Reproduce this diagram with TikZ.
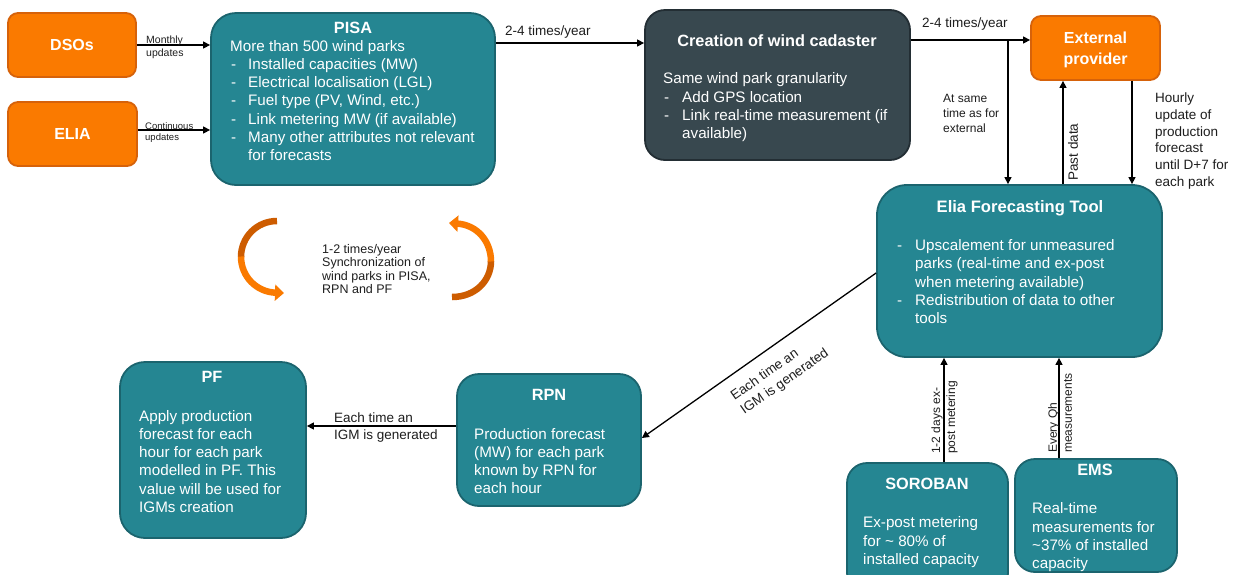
\documentclass[tikz,border=0pt]{standalone}
\usepackage{fontspec}
\setmainfont{Liberation Sans}
\usetikzlibrary{arrows.meta,calc}
\definecolor{teal1}{RGB}{37,134,146}
\definecolor{tealB}{RGB}{27,100,110}
\definecolor{orng}{RGB}{250,122,0}
\definecolor{orngB}{RGB}{214,98,10}
\definecolor{darkorng}{RGB}{205,92,0}
\definecolor{slate}{RGB}{56,72,79}
\definecolor{slateB}{RGB}{35,46,52}
\definecolor{ink}{RGB}{30,30,30}
\tikzset{
 boxbase/.style={draw, line width=1.8pt, inner sep=0pt},
 tealbox/.style={boxbase, fill=teal1, draw=tealB},
 slatebox/.style={boxbase, fill=slate, draw=slateB},
 orgbox/.style={boxbase, fill=orng, draw=orngB, rounded corners=10pt, text=white,
   font=\fontsize{16}{20}\selectfont\bfseries, align=center},
 ttl/.style={text=white, font=\fontsize{16.3}{19}\selectfont\bfseries, inner sep=0pt, anchor=mid, yshift=-4pt},
 bdy/.style={text=white, font=\fontsize{15.2}{18}\selectfont, inner sep=0pt, anchor=mid west, yshift=-3pt},
 lbl/.style={text=ink, font=\fontsize{13.5}{17}\selectfont, inner sep=0pt, anchor=west, align=left},
 lblh/.style={lbl, yshift=-2pt},
 arr/.style={draw=black, line width=1.3pt, -{Triangle[length=7pt,width=7pt]}},
 curv/.style={line width=6.5pt},
}
\begin{document}
\begin{tikzpicture}[x=1pt,y=-1pt]
\useasboundingbox (0,0) rectangle (1235,574);
\clip (0,0) rectangle (1235,574);
\fill[white] (0,0) rectangle (1235,574);

% ---------- boxes ----------
\node[orgbox, minimum width=128pt, minimum height=64pt] (dsos) at (72,45) {DSOs};
\node[orgbox, minimum width=129pt, minimum height=64pt] (elia) at (72.5,134) {ELIA};
\node[tealbox, rounded corners=25pt, minimum width=284pt, minimum height=172pt] (pisa) at (353,99) {};
\node[slatebox, rounded corners=20pt, minimum width=265pt, minimum height=150pt] (cad) at (777.5,85) {};
\node[orgbox, minimum width=129pt, minimum height=64pt] (ext) at (1095.5,48) {};
\node[text=white, font=\fontsize{16}{20.5}\selectfont\bfseries, align=center, inner sep=0pt] (extT) at (1095.5,50) {External\\provider};
\node[tealbox, rounded corners=30pt, minimum width=285pt, minimum height=172pt] (eft) at (1019.5,271) {};
\node[tealbox, rounded corners=25pt, minimum width=186pt, minimum height=176pt] (pf) at (213,450) {};
\node[tealbox, rounded corners=22pt, minimum width=184pt, minimum height=132pt] (rpn) at (549,440) {};
\node[tealbox, rounded corners=20pt, minimum width=161pt, minimum height=130pt] (sor) at (927.5,528) {};
\node[tealbox, rounded corners=20pt, minimum width=162pt, minimum height=113pt] (ems) at (1096,515.5) {};

% ---------- PISA text ----------
\node[ttl] (pisaT) at (353,27) {PISA};
\node[bdy] (pisaA) at (230,46) {More than 500 wind parks};
\foreach \yy in {64,82,100,119,137}
  \node[bdy] at (231,\yy) {-};
\foreach \yy/\s [count=\i] in {64/{Installed capacities (MW)},82/{Electrical localisation (LGL)},
  100/{Fuel type (PV, Wind, etc.)},119/{Link metering MW (if available)},
  137/{Many other attributes not relevant},155/{for forecasts}}
  \node[bdy] (pisaB\i) at (248,\yy) {\s};

% ---------- cadaster text ----------
\node[ttl] (cadT) at (777,40) {Creation of wind cadaster};
\node[bdy] (cadA) at (663,78) {Same wind park granularity};
\foreach \yy in {97,115}
  \node[bdy] at (664,\yy) {-};
\foreach \yy/\s [count=\i] in {97/{Add GPS location},115/{Link real-time measurement (if},133/{available)}}
  \node[bdy] (cadB\i) at (682,\yy) {\s};

% ---------- EFT text ----------
\node[ttl, font=\fontsize{16.6}{19}\selectfont\bfseries] (eftT) at (1020,206) {Elia Forecasting Tool};
\foreach \yy in {245,300}
  \node[bdy] at (897,\yy) {-};
\foreach \yy/\s [count=\i] in {245/{Upscalement for unmeasured},263/{parks (real-time and ex-post},
  282/{when metering available)},300/{Redistribution of data to other},318/{tools}}
  \node[bdy] (eftB\i) at (915,\yy) {\s};

% ---------- PF text ----------
\node[ttl] (pfT) at (212,376) {PF};
\foreach \yy/\s [count=\i] in {416/{Apply production},434/{forecast for each},452/{hour for each park},
  470/{modelled in PF. This},489/{value will be used for},507/{IGMs creation}}
  \node[bdy] (pfB\i) at (139,\yy) {\s};

% ---------- RPN text ----------
\node[ttl] (rpnT) at (549,394) {RPN};
\foreach \yy/\s [count=\i] in {434/{Production forecast},452/{(MW) for each park},
  470/{known by RPN for},488/{each hour}}
  \node[bdy] (rpnB\i) at (474,\yy) {\s};

% ---------- SOROBAN text ----------
\node[ttl] (sorT) at (927,483) {SOROBAN};
\foreach \yy/\s [count=\i] in {522/{Ex-post metering},541/{for \textasciitilde{} 80\% of},559/{installed capacity}}
  \node[bdy] (sorB\i) at (863,\yy) {\s};

% ---------- EMS text ----------
\node[ttl] (emsT) at (1095,469) {EMS};
\foreach \yy/\s [count=\i] in {508/{Real-time},527/{measurements for},545/{\textasciitilde37\% of installed},563/{capacity}}
  \node[bdy] (emsB\i) at (1032,\yy) {\s};

% ---------- connectors ----------
\draw[arr] (dsos.east) -- (dsos.east -| pisa.west);
\draw[arr] ([yshift=4pt]elia.east) -- ([yshift=4pt]elia.east -| pisa.west);
\draw[arr] (pisa.east |- 0,43) -- (cad.west |- 0,43);
\draw[arr] (cad.east |- 0,40) -- (ext.west |- 0,40);
\coordinate (br) at (1008,40);
\draw[arr] (br) -- (br |- eft.north);
\draw[arr] (eft.north -| 1063,0) -- (ext.south -| 1063,0);
\draw[arr] (ext.south -| 1132,0) -- (eft.north -| 1132,0);
\draw[arr] (eft.west |- 0,273) -- (rpn.east |- 0,438);
\draw[arr] (rpn.west |- 0,426) -- (pf.east |- 0,426);
\draw[arr] (sor.north -| 944,0) -- (eft.south -| 944,0);
\draw[arr] (ems.north -| 1059,0) -- (eft.south -| 1059,0);

% ---------- connector labels ----------
\node[lblh, font=\fontsize{10.5}{13}\selectfont] (lMon) at (146,45.5) {Monthly\\updates};
\node[lblh, font=\fontsize{9.5}{11}\selectfont] (lCon) at (145,130.5) {Continuous\\updates};
\node[lbl, anchor=mid west, yshift=-3pt] (l24a) at (505,30) {2-4 times/year};
\node[lbl, anchor=mid west, yshift=-3pt] (l24b) at (922,22) {2-4 times/year};
\node[lblh, font=\fontsize{12}{15}\selectfont] (lSame) at (943,111) {At same\\time as for\\external};
\node[lbl, rotate=90, anchor=center] (lPast) at (1073,152) {Past data};
\node[lbl, font=\fontsize{13.5}{16.8}\selectfont] (lHour) at (1155,141) {Hourly\\update of\\production\\forecast\\until D+7 for\\each park};
\node[lblh, font=\fontsize{12.5}{13.4}\selectfont] (lSync) at (322,267) {1-2 times/year\\Synchronization of\\wind parks in PISA,\\RPN and PF};
\node[lblh] (lIgm1) at (334,426) {Each time an\\IGM is generated};
\node[lbl, rotate=35, anchor=center] (lIgm2) at (780,375) {Each time an\\IGM is generated};
\node[lbl, font=\fontsize{12}{15}\selectfont, rotate=90, anchor=west] (lSor) at (944.5,454) {1-2 days ex-\\post metering};
\node[lbl, font=\fontsize{12}{15}\selectfont, rotate=90, anchor=west] (lEms) at (1060,453) {Every Qh\\measurements};

% ---------- curved synchronization arrows ----------
\draw[curv, darkorng] (277,221) .. controls (257,221) and (241,237) .. (241,257);
\draw[curv, orng, -{Triangle[length=9pt,width=16pt]}] (241,256.5) .. controls (241,277) and (257,292) .. (284,293);
\draw[curv, darkorng] (452,297) .. controls (475,297) and (491,281) .. (491,261);
\draw[curv, orng, -{Triangle[length=9pt,width=16pt]}] (491,261.5) .. controls (491,241) and (477,225) .. (449,223);
\end{tikzpicture}
\end{document}
